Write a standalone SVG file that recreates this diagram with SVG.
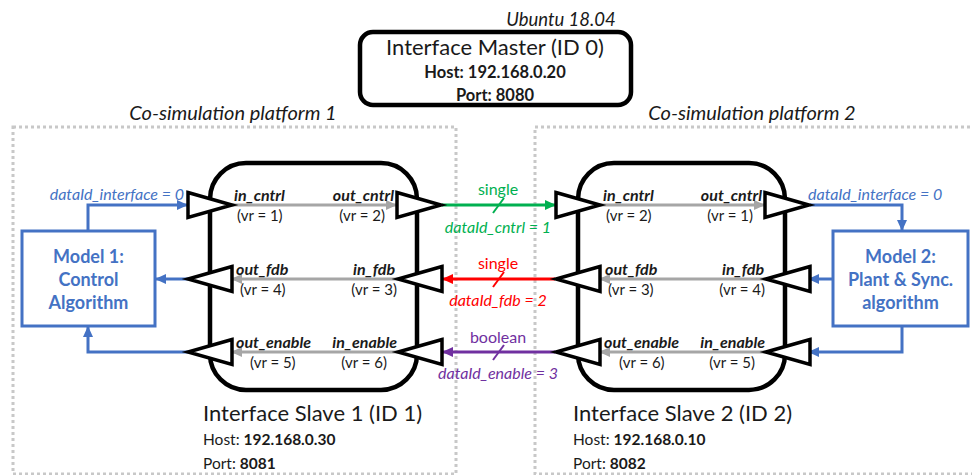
<svg xmlns="http://www.w3.org/2000/svg" width="972" height="475" viewBox="0 0 972 475">
<style>
  text { font-family: Lato, "Liberation Sans", sans-serif; fill: #1a1a1a; }
  .big { font-size: 22px; }
  .bold { font-weight: bold; }
  .it { font-style: italic; }
  .port { font-size: 16px; font-weight: bold; font-style: italic; }
  .vr { font-size: 15px; }
  .plat { font-size: 20px; font-style: italic; }
  .dotted { fill: none; stroke: #c8c8c8; stroke-width: 3; stroke-dasharray: 3 3; }
  .slave { fill: none; stroke: #000; stroke-width: 4.5; }
  .tri { fill: #fff; stroke: #000; stroke-width: 3.5; stroke-linejoin: miter; }
  .gray { stroke: #a6a6a6; stroke-width: 3; fill: none; }
  .blue { stroke: #4472c4; stroke-width: 3; fill: none; }
  .model { fill: #fff; stroke: #4472c4; stroke-width: 3; }
  .mtext { font-size: 18px; font-weight: bold; fill: #4472c4; }
  .bl { font-size: 16px; font-style: italic; fill: #4472c4; }
  .info { font-size: 15.5px; }
</style>
<defs>
  <marker id="ag" markerUnits="userSpaceOnUse" markerWidth="11" markerHeight="10" refX="10" refY="5" orient="auto"><path d="M0,0 L11,5 L0,10 z" fill="#a6a6a6"/></marker>
  <marker id="ab" markerUnits="userSpaceOnUse" markerWidth="11" markerHeight="10" refX="10" refY="5" orient="auto"><path d="M0,0 L11,5 L0,10 z" fill="#4472c4"/></marker>
  <marker id="agr" markerUnits="userSpaceOnUse" markerWidth="11" markerHeight="10" refX="10" refY="5" orient="auto"><path d="M0,0 L11,5 L0,10 z" fill="#00b050"/></marker>
  <marker id="ar" markerUnits="userSpaceOnUse" markerWidth="11" markerHeight="10" refX="10" refY="5" orient="auto"><path d="M0,0 L11,5 L0,10 z" fill="#ff0000"/></marker>
  <marker id="ap" markerUnits="userSpaceOnUse" markerWidth="11" markerHeight="10" refX="10" refY="5" orient="auto"><path d="M0,0 L11,5 L0,10 z" fill="#7030a0"/></marker>
  <polygon id="tr" points="0,-12.5 44,0 0,12.5" class="tri"/>
  <polygon id="tl" points="44,-12.5 0,0 44,12.5" class="tri"/>
</defs>

<g id="platform1">
  <rect x="13" y="127" width="443" height="347" class="dotted"/>
  <text x="233" y="120" text-anchor="middle" class="plat">Co-simulation platform 1</text>
</g>
<g id="platform2">
  <rect x="535" y="127" width="445" height="347" class="dotted"/>
  <text x="752" y="120" text-anchor="middle" class="plat">Co-simulation platform 2</text>
</g>

<g id="master">
  <text x="561" y="26" text-anchor="middle" class="it" font-size="18.5">Ubuntu 18.04</text>
  <rect x="360" y="32" width="271" height="73" rx="13" fill="#fff" stroke="#000" stroke-width="4.5"/>
  <text x="495" y="55" text-anchor="middle" class="big">Interface Master (ID 0)</text>
  <text x="495" y="78" text-anchor="middle" class="bold" font-size="16.5">Host: 192.168.0.20</text>
  <text x="495" y="101" text-anchor="middle" class="bold" font-size="16.5">Port: 8080</text>
</g>

<g id="connectors">
  <!-- slave 1 internal -->
  <line x1="232" y1="205" x2="396" y2="205" class="gray" marker-end="url(#ag)"/>
  <line x1="398" y1="279" x2="232" y2="279" class="gray" marker-end="url(#ag)"/>
  <line x1="398" y1="352" x2="232" y2="352" class="gray" marker-end="url(#ag)"/>
  <!-- slave 2 internal -->
  <line x1="600" y1="205" x2="764" y2="205" class="gray" marker-end="url(#ag)"/>
  <line x1="766" y1="279" x2="600" y2="279" class="gray" marker-end="url(#ag)"/>
  <line x1="766" y1="352" x2="600" y2="352" class="gray" marker-end="url(#ag)"/>
  <!-- inter-slave -->
  <line x1="442" y1="205" x2="555" y2="205" stroke="#00b050" stroke-width="3" marker-end="url(#agr)"/>
  <line x1="493" y1="213" x2="504" y2="198" stroke="#00b050" stroke-width="2"/>
  <text x="498" y="195" text-anchor="middle" font-size="16" style="fill:#00b050">single</text>
  <text x="498" y="233" text-anchor="middle" font-size="16" class="it" style="fill:#00b050">dataId_cntrl = 1</text>

  <line x1="555" y1="279" x2="443" y2="279" stroke="#ff0000" stroke-width="3" marker-end="url(#ar)"/>
  <line x1="493" y1="287" x2="504" y2="272" stroke="#ff0000" stroke-width="2"/>
  <text x="498" y="269" text-anchor="middle" font-size="16" style="fill:#ff0000">single</text>
  <text x="498" y="306" text-anchor="middle" font-size="16" class="it" style="fill:#ff0000">dataId_fdb = 2</text>

  <line x1="555" y1="352" x2="443" y2="352" stroke="#7030a0" stroke-width="3" marker-end="url(#ap)"/>
  <line x1="493" y1="360" x2="504" y2="345" stroke="#7030a0" stroke-width="2"/>
  <text x="498" y="343" text-anchor="middle" font-size="16" style="fill:#7030a0">boolean</text>
  <text x="498" y="379" text-anchor="middle" font-size="16" class="it" style="fill:#7030a0">dataId_enable = 3</text>

  <!-- model 1 -->
  <polyline points="88,231 88,205 187,205" class="blue" marker-end="url(#ab)"/>
  <text x="184" y="200" text-anchor="end" class="bl">dataId_interface = 0</text>
  <line x1="188" y1="279" x2="156" y2="279" class="blue" marker-end="url(#ab)"/>
  <polyline points="188,352 88,352 88,327" class="blue" marker-end="url(#ab)"/>
  <!-- model 2 -->
  <polyline points="810,205 902,205 902,230" class="blue" marker-end="url(#ab)"/>
  <text x="808" y="200" class="bl">dataId_interface = 0</text>
  <line x1="833" y1="279" x2="809" y2="279" class="blue" marker-end="url(#ab)"/>
  <polyline points="902,326 902,352 809,352" class="blue" marker-end="url(#ab)"/>
</g>

<g id="slave1">
  <rect x="210" y="163" width="207" height="227" rx="36" class="slave"/>
  <use href="#tr" x="188" y="205"/>
  <use href="#tr" x="397" y="205"/>
  <use href="#tl" x="188" y="279"/>
  <use href="#tl" x="398" y="279"/>
  <use href="#tl" x="188" y="352"/>
  <use href="#tl" x="398" y="352"/>
  <text x="234" y="201" class="port">in_cntrl</text>
  <text x="237" y="221" class="vr">(vr = 1)</text>
  <text x="394" y="201" text-anchor="end" class="port">out_cntrl</text>
  <text x="385" y="221" text-anchor="end" class="vr">(vr = 2)</text>
  <text x="236" y="275" class="port">out_fdb</text>
  <text x="240" y="295" class="vr">(vr = 4)</text>
  <text x="395" y="275" text-anchor="end" class="port">in_fdb</text>
  <text x="397" y="295" text-anchor="end" class="vr">(vr = 3)</text>
  <text x="236" y="348" class="port">out_enable</text>
  <text x="250" y="368" class="vr">(vr = 5)</text>
  <text x="397" y="348" text-anchor="end" class="port">in_enable</text>
  <text x="387" y="368" text-anchor="end" class="vr">(vr = 6)</text>
  <text x="203" y="421" class="big">Interface Slave 1 (ID 1)</text>
  <text x="203" y="445" class="info">Host: <tspan class="bold">192.168.0.30</tspan></text>
  <text x="203" y="469" class="info">Port: <tspan class="bold">8081</tspan></text>
</g>

<g id="slave2">
  <rect x="578" y="163" width="207" height="227" rx="36" class="slave"/>
  <use href="#tr" x="556" y="205"/>
  <use href="#tr" x="765" y="205"/>
  <use href="#tl" x="556" y="279"/>
  <use href="#tl" x="766" y="279"/>
  <use href="#tl" x="556" y="352"/>
  <use href="#tl" x="766" y="352"/>
  <text x="603" y="201" class="port">in_cntrl</text>
  <text x="606" y="221" class="vr">(vr = 2)</text>
  <text x="762" y="201" text-anchor="end" class="port">out_cntrl</text>
  <text x="753" y="221" text-anchor="end" class="vr">(vr = 1)</text>
  <text x="605" y="275" class="port">out_fdb</text>
  <text x="608" y="295" class="vr">(vr = 3)</text>
  <text x="764" y="275" text-anchor="end" class="port">in_fdb</text>
  <text x="765" y="295" text-anchor="end" class="vr">(vr = 4)</text>
  <text x="604" y="348" class="port">out_enable</text>
  <text x="619" y="368" class="vr">(vr = 6)</text>
  <text x="765" y="348" text-anchor="end" class="port">in_enable</text>
  <text x="755" y="368" text-anchor="end" class="vr">(vr = 5)</text>
  <text x="573" y="421" class="big">Interface Slave 2 (ID 2)</text>
  <text x="573" y="445" class="info">Host: <tspan class="bold">192.168.0.10</tspan></text>
  <text x="573" y="469" class="info">Port: <tspan class="bold">8082</tspan></text>
</g>

<g id="model1">
  <rect x="22" y="231" width="133" height="95" class="model"/>
  <text x="88.5" y="263" text-anchor="middle" class="mtext">Model 1:</text>
  <text x="88.5" y="286" text-anchor="middle" class="mtext">Control</text>
  <text x="88.5" y="309" text-anchor="middle" class="mtext">Algorithm</text>
</g>

<g id="model2">
  <rect x="833" y="231" width="135" height="95" class="model"/>
  <text x="900.5" y="263" text-anchor="middle" class="mtext">Model 2:</text>
  <text x="900.5" y="286" text-anchor="middle" class="mtext">Plant &amp; Sync.</text>
  <text x="900.5" y="309" text-anchor="middle" class="mtext">algorithm</text>
</g>
</svg>
